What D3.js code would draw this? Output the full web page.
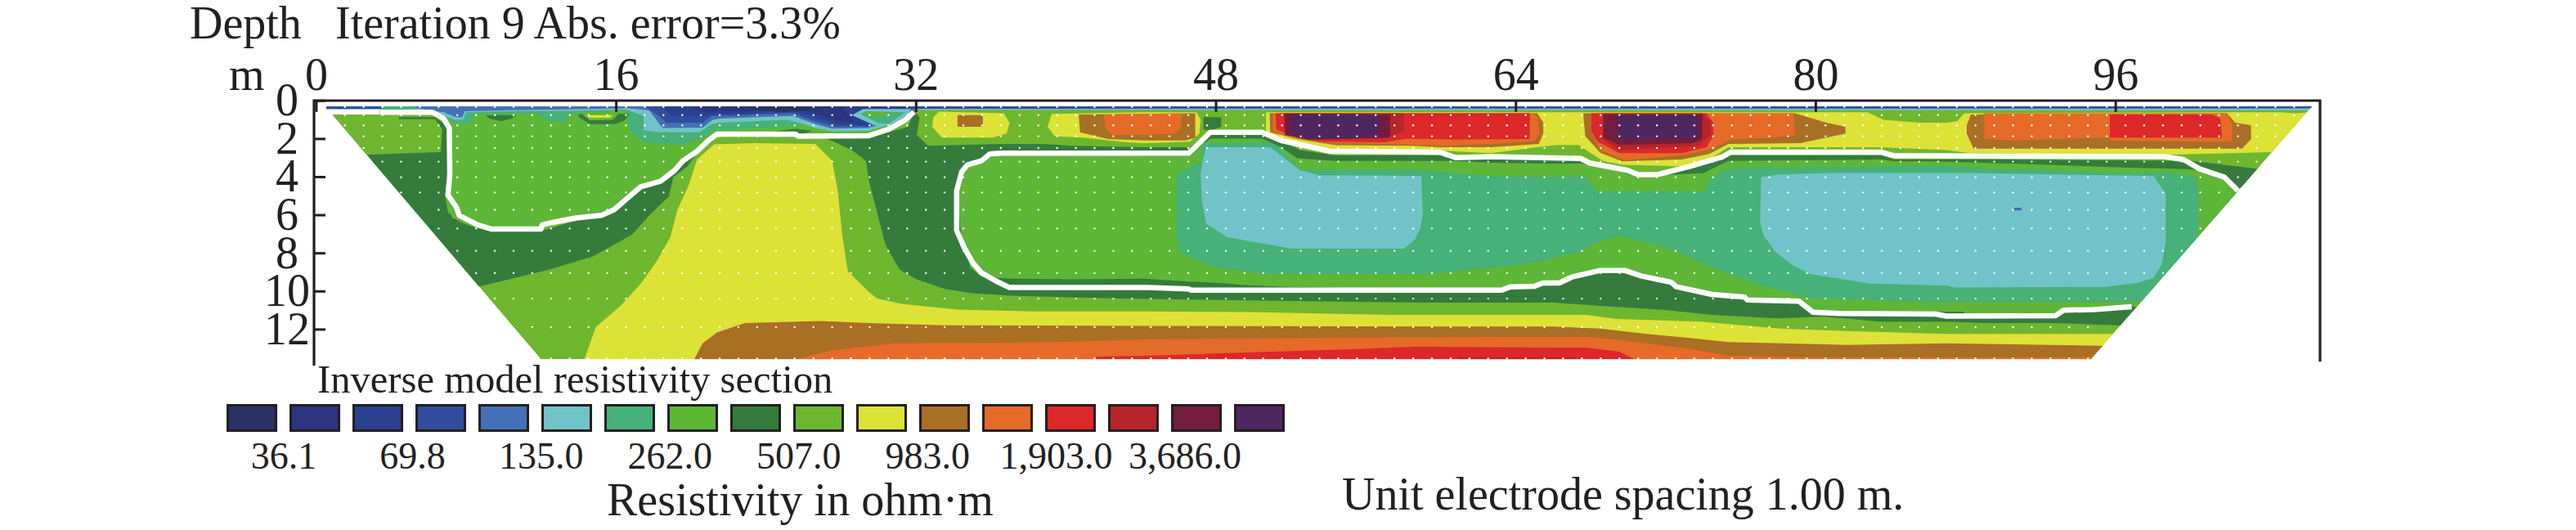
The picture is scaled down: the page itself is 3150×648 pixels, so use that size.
<!DOCTYPE html>
<html>
<head>
<meta charset="utf-8">
<script src="https://cdn.jsdelivr.net/npm/d3@7"></script>
<style>
  html, body { margin: 0; background: #fff; }
  text { font-family: "Liberation Serif", serif; fill: #231f20; }
</style>
</head>
<body>
<div id="chart"></div>
<script>
// legend
const legendColors = ["#2a3163", "#2c357f", "#29408f", "#314c9d", "#4470b5", "#70c4c8", "#46b178", "#5eb636", "#347b3c",
  "#6fb62f", "#dde237", "#a96f25", "#e66a28", "#dc272b", "#b5252b", "#711d3f", "#4f2760"];
const legendLabels = ["36.1", "69.8", "135.0", "262.0", "507.0", "983.0", "1,903.0", "3,686.0"];
const xTicks = [0, 16, 32, 48, 64, 80, 96];
const depthTicks = [0, 2, 4, 6, 8, 10, 12];

// model blocks, [first, last] position of the white dots in every depth row
const dotDepths = [0.34, 0.77, 1.31, 1.88, 2.5, 3.21, 4.03, 4.83, 5.74, 6.72, 7.89, 9.06, 10.4, 11.9, 13.54];
const dotFirst = [1.54, 1.54, 1.54, 2.54, 2.54, 3.54, 4.54, 4.54, 6.54, 6.54, 7.54, 8.54, 9.54, 11.54, 12.54];
const dotLast = [105.54, 105.54, 104.54, 104.54, 103.54, 103.54, 102.54, 101.54, 100.54, 100.54, 99.54, 98.54, 96.54, 94.54, 94.54];

// section outline and resistivity bands, [distance m, depth m]
const outline = [[0.55,.31],[106.5,.31],[94.69,13.58],[12,13.58],[.88,.74],[3.4,.74],[3.4,.48],[.55,.48]];
const darkLeft = [[4.26,.88],[6.36,.88],[7.11,1.45],[7.26,4.74],[7.26,6.17],[9.37,6.89],[12.07,6.82],[13.87,6.32],[15.68,5.89],[16.73,5.17],[17.48,4.6],[18.38,4.24],[19.13,3.74],[19.66,3.24],[20.33,2.6],[20.94,2.1],[21.39,1.81],[20.63,2.38],[19.81,3.46],[19.06,4.03],[18.83,5.03],[17.78,6.03],[16.88,7.03],[14.78,8.18],[12.37,8.89],[8.77,9.75],[4,9.75],[-1,.5]];
const lump = [[.35,.71],[4.41,.74],[4.41,.98],[6.36,.98],[6.74,1.52],[6.66,2.71],[2.61,2.85],[0,2.85]];
const bowl = [[6.81,.31],[7.14,1.45],[7.14,3.89],[6.89,5.03],[7.04,5.89],[7.71,6.39],[8.47,6.67],[9.37,6.82],[12,6.82],[12.07,6.6],[13.87,6.24],[15.23,6.1],[15.9,5.82],[16.73,5.1],[17.33,4.6],[18.38,4.31],[19.13,3.74],[19.58,3.24],[20.33,2.67],[20.94,2.17],[21.39,1.81],[21.53,1.74],[25.59,1.74],[29.49,1.74],[30.54,1.45],[31.45,1.02],[31.9,.59],[31.9,.31]];
const yellowMain = [[14.32,13.58],[14.93,11.9],[16.28,10.75],[17.33,9.61],[18.16,8.46],[18.91,7.17],[19.28,5.74],[19.88,4.46],[20.33,3.1],[21.24,2.31],[23.33,2.24],[26.64,2.28],[27.54,3.17],[27.84,4.74],[28.07,7.03],[28.37,8.96],[29.49,10.04],[29.94,10.39],[31.3,10.68],[34.23,10.97],[38.28,11.07],[44.22,11.07],[50.33,11.11],[57.31,11.25],[67.79,11.25],[69.39,11.47],[73.9,11.61],[78.11,11.97],[82.04,12.11],[86.99,12.25],[97,12.25],[97,13.58]];
const brownDeep = [[20.18,13.58],[20.63,12.75],[21.39,12.18],[22.88,11.68],[26.94,11.58],[29.49,11.68],[33.55,11.8],[44.22,11.83],[66.04,11.87],[68.51,11.97],[70.99,12.25],[73.31,12.47],[75.35,12.68],[78.26,12.75],[81.75,12.83],[86.99,12.75],[95.13,12.87],[97,12.87],[97,13.58]];
const orangeDeep = [[25.59,13.58],[27.54,13.11],[30.84,12.75],[39.56,12.68],[44.22,12.54],[55.71,12.44],[66.04,12.4],[68.08,12.4],[70.99,12.75],[73.31,13.04],[75.35,13.4],[80.15,13.47],[86.99,13.47],[97,13.47],[97,13.58]];
const redDeep = [[41.51,13.58],[41.66,13.44],[44.22,13.4],[49.02,13.25],[55.85,13.04],[58.76,12.92],[66.04,12.97],[67.79,12.97],[69.53,13.18],[70.33,13.58]];
const darkRedDeep = [[60.95,13.5],[67.2,13.5],[67.2,13.58],[60.95,13.58]];
const darkCenter = [[27.24,2],[28.59,2.6],[29.34,3.17],[29.49,4.17],[29.94,5.89],[30.39,7.6],[31.15,8.89],[32.05,9.39],[33.55,9.89],[34.9,10.11],[37,10.25],[43.01,10.39],[53.09,10.54],[59.05,10.61],[66.04,10.61],[67.13,10.68],[69.24,10.82],[71.71,10.97],[74.48,11.25],[77.97,11.44],[80.44,11.35],[83.5,11.61],[86.99,11.61],[89.02,11.68],[92.8,11.68],[96.14,11.8],[98,11.8],[98,10.8],[102.54,4.74],[103.71,3.6],[100.07,3.17],[90.04,3.1],[86.11,3.1],[84.22,3.1],[83.5,2.88],[75.2,2.88],[74.19,3.31],[72.44,3.81],[69.97,3.74],[67.93,3.24],[67.5,3.1],[62.69,3.1],[60.65,2.88],[54.4,2.88],[52.51,2.6],[51.78,2.24],[50.47,1.81],[47.71,1.81],[47.13,2.1],[46.62,2.45],[44.22,2.45],[40.31,2.38],[38.81,2.28],[36.55,2.28],[32.65,2.38],[32.05,1.81],[32.2,.88],[31.9,.52],[31.6,1.38],[29.49,1.95]];
const interior = [[34.75,3.46],[35.5,3.24],[36.18,2.88],[36.55,2.85],[43.31,2.85],[44.22,2.91],[46.55,2.91],[47.13,2.45],[47.71,2],[50.47,2],[51.49,2.45],[52.36,3.03],[54.4,3.17],[60.65,3.17],[62.69,3.27],[66.04,3.31],[67.64,3.31],[68.66,3.48],[70.12,3.89],[72.44,3.89],[74.04,3.81],[75.06,3.31],[75.35,3.17],[83.5,3.1],[84.22,3.2],[86.11,3.2],[90.47,3.31],[96.73,3.53],[99.78,3.6],[100.51,3.67],[101.82,4.14],[102.33,4.74],[102.54,5.03],[104,5.03],[104,10.82],[96.94,10.82],[93.24,10.97],[92.8,11.25],[86.55,11.3],[86.4,11.21],[81.31,11.18],[79.86,11.11],[79.13,10.54],[76.22,10.39],[74.48,10.18],[72.3,9.54],[69.82,8.92],[68.52,8.92],[67.06,9.25],[65.17,9.68],[63.27,10.01],[51.78,9.78],[49.31,9.68],[48.29,9.58],[46.4,9.49],[44.22,9.35],[40.46,9.39],[37,9.35],[35.5,9.25],[34.9,8.75],[34.38,6.75],[34.23,4.74],[34.3,3.89]];
const sliver = [[86.55,11.08],[87.93,11.08],[87.93,11.18],[86.55,11.18]];
const teal = [[47.27,2.24],[50.91,2.2],[51.49,2.53],[52.51,3.63],[53.82,3.63],[58.76,3.63],[62.84,3.96],[66.04,4],[67.64,3.96],[68.37,4.77],[74.04,4.77],[74.48,3.96],[75.64,3.53],[86.99,3.43],[89.6,3.6],[91.93,3.63],[96.29,3.81],[98.91,3.77],[100.29,4.03],[100.44,5.03],[100.44,7.03],[100.44,10.6],[97.3,10.58],[86.11,10.58],[82.62,10.47],[79.71,10.39],[76.8,9.61],[74.48,8.75],[72.73,7.96],[71.57,7.6],[69.53,7.1],[68.37,7.46],[67.5,7.89],[65.17,8.46],[63.13,8.75],[59.2,9.11],[50.76,9.11],[47.86,8.75],[46.08,7.96],[45.89,7.03],[45.89,3.89],[47.27,3.17]];
const cyanLeft = [[47.49,2.45],[50.91,2.45],[52.51,3.67],[53.53,3.93],[58.98,3.96],[59.05,6.03],[58.91,6.75],[58.62,7.32],[58.04,7.78],[52.07,7.78],[48.58,7.17],[47.49,6.46],[47.27,5.32],[47.2,3.89],[47.3,3.17]];
const cyanRight = [[77.1,4.03],[77.97,3.89],[80.88,3.81],[86.99,3.81],[88,3.81],[98.04,3.96],[98.69,4.89],[98.69,7.46],[98.47,8.6],[98.04,9.32],[97.16,9.58],[95.42,9.78],[87.42,9.82],[86.99,9.72],[82.91,9.61],[79.71,9.11],[78.7,8.6],[77.82,7.89],[77.24,7.1],[77.05,6.46]];
const blip = [[90.55,5.63],[91,5.63],[91,5.77],[90.55,5.77]];

// shallow highs
const yellowA = [[32.95,.88],[33.25,.59],[36.7,.67],[37,1.17],[36.85,1.74],[36.1,1.95],[33.4,1.95],[32.87,1.38]];
const brownA = [[34.23,.77],[35.58,.77],[35.58,1.38],[34.23,1.38]];
const yellowB = [[39.03,1.38],[39.26,.71],[44.22,.62],[46.98,.62],[47.2,1.02],[47.13,1.74],[46.62,2.17],[44.22,2.24],[43.31,2.2],[40.91,1.95],[39.41,1.88]];
const brownB = [[40.69,.74],[46.91,.67],[46.91,1.95],[46.4,2.1],[44.22,2.1],[42.26,2.03],[40.76,1.67]];
const orangeB = [[42.04,.74],[46.18,.67],[46.18,1.38],[45.82,1.74],[44.22,1.81],[42.49,1.81],[42.11,1.45]];
const yellowBig = [[50.69,.62],[82.77,.62],[83.64,1.02],[85.53,1.17],[86.99,1.17],[87.56,1.09],[87.93,.67],[101.96,.62],[104.73,.62],[105.6,.67],[106.47,.62],[104.43,2.71],[98.62,2.85],[88.29,2.77],[86.99,2.6],[83.5,2.45],[75.35,2.45],[74.19,3.17],[72.88,3.46],[69.68,3.38],[68.66,3.17],[67.35,2.34],[66.19,2.34],[65.17,2.45],[62.69,2.77],[59.93,2.63],[54.4,2.77],[52.36,2.45],[50.69,1.74]];
const darkTick = [[47.35,.88],[48.29,.88],[48.29,1.38],[47.71,1.6],[47.35,1.52]];
const brownC = [[50.88,.67],[65.16,.67],[65.48,1.17],[65.48,1.74],[65.24,2.28],[62.69,2.45],[59.93,2.45],[58.47,2.38],[54.4,2.35],[52.36,2.03],[50.91,1.67]];
const orangeC = [[51.06,.67],[64.94,.67],[65.16,.88],[65.28,1.74],[65.02,2.14],[62.62,2.28],[60.07,2.38],[57.31,2.28],[54.4,2.24],[52.07,1.95],[51.06,1.6]];
const redC = [[51.2,.67],[64.76,.67],[64.76,2.03],[61.16,2.05],[58.18,2],[57.02,2.2],[53.67,2.17],[52.36,1.95],[51.23,1.52]];
const darkRedC = [[51.67,.67],[58.04,.67],[58.04,1.6],[57.02,2],[52.95,2.07],[51.67,1.74]];
const maroonC = [[51.67,.71],[57.31,.74],[57.31,1.95],[52.95,2.05],[51.71,1.81]];
const purpleC = [[52.04,.71],[56.73,.74],[56.73,1.88],[54.84,2],[52.95,2],[52.04,1.81]];
const brownD = [[67.61,.67],[78.91,.67],[80.59,1.17],[81.6,1.38],[81.6,1.74],[80.59,1.95],[79.2,2.24],[75.35,2.28],[74.33,2.81],[72.88,3.1],[69.68,3.2],[68.52,2.74],[67.72,1.88]];
const orangeD = [[68.04,.67],[78.84,.67],[78.91,1.81],[77.82,1.95],[75.5,2.05],[74.48,2.53],[72.88,2.88],[69.82,3.14],[68.52,2.6],[68.04,1.74]];
const redD = [[68.04,.67],[74.19,.67],[74.55,1.17],[74.55,1.88],[74.19,2.45],[72.88,2.77],[69.53,2.77],[68.37,2.17],[68.04,1.6]];
const darkRedD = [[68.66,.67],[73.97,.67],[74.41,1.17],[74.41,1.81],[73.75,2.38],[69.53,2.6],[68.66,2.03]];
const maroonD = [[68.69,.74],[73.97,.74],[73.97,2.03],[73.46,2.24],[69.53,2.34],[68.69,1.95]];
const purpleD = [[69.46,.77],[73.68,.77],[73.68,1.95],[69.46,2.03]];
const brownE = [[88.29,.74],[101.96,.67],[102.4,1.17],[103.24,1.31],[103.24,2.03],[102.76,2.53],[88.44,2.53],[88.07,1.74],[88.07,1.31]];
const orangeE = [[88.99,.67],[101.96,.67],[102.25,1.31],[102.22,2.17],[100.65,2.17],[95.85,2.1],[95.56,1.95],[90.47,2.1],[89.02,2]];
const redE = [[95.71,.74],[101.16,.74],[101.6,.95],[101.7,1.95],[95.71,1.95]];

// near-surface lows
const topCyan = [[.55,.31],[106.5,.31],[106.5,.52],[.55,.48]];
const topBlue = [[.55,.31],[106.5,.31],[106.5,.42],[.55,.44]];
const seaTop = [[3.51,.52],[5.31,.45],[6.81,.74],[7.26,1.17],[8.32,1.2],[8.39,.71],[11.77,.67],[12.37,1.1],[13.27,1.17],[13.65,.67],[16.58,.52],[16.8,1.74],[17.63,2.24],[19.58,2.31],[20.63,1.95],[21.24,1.57],[23.78,1.45],[26,1.3],[26,.31],[3.51,.31]];
const cyanTop = [[5.31,.45],[6.66,.71],[7.41,1.02],[7.86,1.02],[8.01,.62],[10.27,.57],[13.87,.55],[16.58,.48],[17.48,.81],[17.48,1.57],[18.38,1.67],[20.48,1.67],[21.09,1.24],[21.53,1.17],[25.14,1.02],[26.04,1.24],[26.64,1.45],[27.54,1.63],[29.49,1.6],[30.54,1.28],[31.75,.71],[31.9,.31],[5.31,.31]];
const lightBlueTop = [[5.31,.4],[6.81,.62],[7.49,.88],[7.79,.88],[7.94,.57],[10.27,.51],[16.58,.41],[17.78,.52],[18.38,1.31],[18.53,1.45],[20.63,1.42],[21.16,1.02],[21.53,.95],[23.48,.88],[25.44,.81],[26.64,1.24],[27.54,1.48],[29.49,1.45],[30.39,1.17],[31.9,.67],[31.9,.31],[5.31,.31]];
const blueTop = [[17.63,.38],[18.38,.88],[18.68,1.17],[20.63,1.17],[21.09,.81],[21.53,.81],[25.44,.67],[26.64,1.09],[27.69,1.38],[29.49,1.38],[30.24,1.1],[31.9,.52],[31.9,.31],[17.63,.31]];
const blueMid = [[18.53,.38],[18.98,.81],[20.63,.81],[21.53,.71],[23.03,.71],[25.29,.52],[26.64,.88],[27.84,1.24],[29.34,1.31],[29.94,1.17],[31.75,.38],[31.75,.31],[18.53,.31]];
const navyTop = [[20.18,.34],[20.48,.59],[21.53,.57],[23.03,.59],[25.29,.42],[26.64,.67],[27.54,1.02],[28.74,1.17],[28.14,.45],[28.14,.31],[20.18,.31]];
const navyCore = [[23.03,.34],[26.49,.34],[26.19,.52],[24.84,.62],[23.78,.52]];
const pocketCyan = [[28.59,.77],[29.19,.45],[31.75,.45],[31.6,.74],[30.7,1.31],[29.79,1.31]];
const pocketSea = [[29.04,.71],[29.34,.57],[31.45,.62],[30.54,1.24],[29.94,1.17]];
const pocketLight = [[29.19,.67],[29.49,.59],[30.54,.62],[30.39,.81],[29.64,.81]];
const darkStrip = [[23.78,1.71],[25.59,1.48],[26.49,1.6],[26.04,1.74]];
const patchDark = [[9.07,.77],[10.72,.77],[10.42,.95],[9.89,1.09],[9.22,.95]];
const ringDark = [[14.02,.71],[16.73,.71],[16.5,1.02],[15.98,1.24],[14.63,1.24],[14.02,.88]];
const ringLight = [[14.17,.71],[16.13,.71],[15.83,1.02],[14.63,1.05]];
const ringYellow = [[14.47,.77],[15.83,.77],[15.68,.91],[14.55,.91]];

// thick white contours
const contourA = [[3.43,.62],[6.21,.62],[6.81,.95],[7.11,1.45],[7.14,3.89],[7.04,4.96],[7.49,5.6],[7.64,6.03],[8.62,6.53],[9.37,6.75],[12,6.75],[12.07,6.53],[12.67,6.39],[13.87,6.17],[15.23,6.03],[15.9,5.74],[16.73,5.03],[17.33,4.53],[18.38,4.24],[19.13,3.67],[19.58,3.17],[20.33,2.67],[20.94,2.1],[21.39,1.77],[25.59,1.77],[25.74,1.88],[29.49,1.85],[30.54,1.52],[31.45,1.02],[31.9,.59]];
const contourB = [[102.54,4.74],[102.33,4.53],[101.82,4.03],[100.51,3.6],[99.63,3.1],[98.62,2.95],[86.11,2.91],[84.22,2.91],[83.5,2.71],[75.5,2.71],[75.06,2.95],[73.31,3.46],[71.57,3.89],[70.55,3.89],[69.97,3.67],[67.93,3.28],[67.5,3.05],[62.69,2.95],[60.8,3],[59.93,2.71],[54.11,2.67],[51.49,2.1],[50.47,1.67],[47.71,1.67],[46.98,2.38],[46.55,2.77],[44.22,2.77],[36.55,2.77],[35.95,2.81],[35.5,3.17],[34.75,3.38],[34.45,3.74],[34.18,4.74],[34.18,6.82],[34.6,7.75],[35.05,8.53],[35.5,9.04],[36.25,9.46],[37,9.82],[44.37,9.82],[46.55,9.89],[46.69,9.96],[63.27,9.96],[63.71,9.78],[65.02,9.75],[65.45,9.58],[66.33,9.58],[67.06,9.25],[68.52,8.92],[69.82,8.92],[70.7,9.21],[72.3,9.54],[72.59,9.78],[74.48,10.18],[76.22,10.32],[76.37,10.47],[79.13,10.54],[79.86,11.11],[81.31,11.18],[86.4,11.21],[86.99,11.32],[92.8,11.3],[93.24,11.01],[94.84,10.97],[96.87,10.82]];

// back to front, second value is the index in legendColors
const bands = [
  [outline, 9], [darkLeft, 8], [lump, 9], [bowl, 7], [yellowMain, 10], [brownDeep, 11], [orangeDeep, 12], [redDeep, 13], [darkRedDeep, 14],
  [darkCenter, 8], [interior, 7], [sliver, 8], [teal, 6], [cyanLeft, 5], [cyanRight, 5], [blip, 4],
  [yellowA, 10], [brownA, 11], [yellowB, 10], [brownB, 11], [orangeB, 12], [yellowBig, 10], [darkTick, 8],
  [brownC, 11], [orangeC, 12], [redC, 13], [darkRedC, 14], [maroonC, 15], [purpleC, 16],
  [brownD, 11], [orangeD, 12], [redD, 13], [darkRedD, 14], [maroonD, 15], [purpleD, 16],
  [brownE, 11], [orangeE, 12], [redE, 13],
  [topCyan, 5], [topBlue, 3], [seaTop, 6], [cyanTop, 5], [lightBlueTop, 4], [blueTop, 3], [blueMid, 2], [navyTop, 1], [navyCore, 0],
  [pocketCyan, 5], [pocketSea, 6], [pocketLight, 7], [darkStrip, 8], [patchDark, 8], [ringDark, 8], [ringLight, 9], [ringYellow, 10]
];

const width = 3150, height = 648;
const svg = d3.select("#chart").append("svg")
  .attr("width", width)
  .attr("height", height)
  .style("display", "block");

const x = d3.scaleLinear().domain([0, 107]).range([386.4, 2838.8]);
const y = d3.scaleLinear().domain([0, 13.58]).range([122.8, 439.2]);
const line = d3.line().x(d => x(d[0])).y(d => y(d[1]));

svg.append("clipPath").attr("id", "section")
  .append("path").attr("d", line(outline) + "Z");

const section = svg.append("g").attr("clip-path", "url(#section)");
section.selectAll("path.band")
  .data(bands)
  .join("path")
  .attr("class", "band")
  .attr("d", d => line(d[0]) + "Z")
  .attr("fill", d => legendColors[d[1]]);

section.selectAll("path.contour")
  .data([contourA, contourB])
  .join("path")
  .attr("class", "contour")
  .attr("d", line)
  .attr("fill", "none")
  .attr("stroke", "#fff")
  .attr("stroke-width", 6.5)
  .attr("stroke-linejoin", "round");

// model block dots
const dots = dotDepths.flatMap((depth, i) =>
  d3.range(dotFirst[i], dotLast[i] + 0.5).map(m => [m, depth]));
svg.append("g").selectAll("circle")
  .data(dots)
  .join("circle")
  .attr("cx", d => x(d[0]))
  .attr("cy", d => y(d[1]))
  .attr("r", 1.2)
  .attr("fill", "#fff");

// frame and axes
svg.append("path")
  .attr("d", `M384,447V123H2837V442`)
  .attr("fill", "none")
  .attr("stroke", "#231f20")
  .attr("stroke-width", 3.2);

const xAxis = svg.append("g").attr("transform", `translate(0,${y(0)})`)
  .call(d3.axisTop(x).tickValues(xTicks).tickSize(-14).tickPadding(13).tickFormat(d3.format("d")));
const yAxis = svg.append("g").attr("transform", "translate(384,0)")
  .call(d3.axisLeft(y).tickValues(depthTicks).tickSize(-14).tickFormat(d3.format("d")));
xAxis.select(".domain").remove();
yAxis.select(".domain").remove();
xAxis.selectAll("line").attr("stroke", "#231f20").attr("stroke-width", 3);
yAxis.selectAll("line").attr("stroke", "#231f20").attr("stroke-width", 3);
xAxis.selectAll("text").attr("font-family", null).style("font-size", "56px");
yAxis.selectAll("text").attr("x", -33).attr("text-anchor", "middle").attr("font-family", null).style("font-size", "56px");

function label(txt, tx, ty, size) {
  return svg.append("text").attr("x", tx).attr("y", ty).style("font-size", size + "px").text(txt);
}
label("Depth", 232, 47, 56);
label("Iteration 9 Abs. error=3.3%", 410, 47, 56);
label("m", 280, 110, 56);
label("Inverse model resistivity section", 388, 480, 48.6);
label("Resistivity in ohm\u00b7m", 742, 630, 56);
label("Unit electrode spacing 1.00 m.", 1641, 623, 56);

// colour legend
const swatchX = d3.scaleLinear().domain([0, 17]).range([277, 1586]);
svg.append("g").selectAll("rect")
  .data(legendColors)
  .join("rect")
  .attr("x", (d, i) => swatchX(i) + 1.5)
  .attr("y", 495.5)
  .attr("width", 59)
  .attr("height", 31)
  .attr("fill", d => d)
  .attr("stroke", "#231f20")
  .attr("stroke-width", 3);

const labelX = d3.scaleLinear().domain([0, 7]).range([347, 1449]);
svg.append("g").selectAll("text")
  .data(legendLabels)
  .join("text")
  .attr("x", (d, i) => labelX(i))
  .attr("y", 573)
  .attr("text-anchor", "middle")
  .style("font-size", "46px")
  .text(d => d);
</script>
</body>
</html>
